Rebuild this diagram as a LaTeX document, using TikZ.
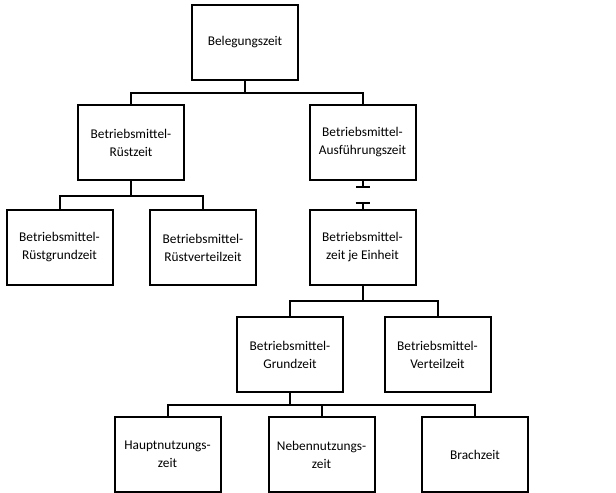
\documentclass[tikz,border=0pt]{standalone}
\usepackage{fontspec}
\setmainfont{Carlito}
\usepackage{tikz}
\usetikzlibrary{arrows.meta,calc,positioning}

\tikzset{
  zeitbox/.style={draw, line width=1.5pt, fill=white, align=center,
    minimum width=79.5pt, minimum height=56.25pt, inner sep=0pt,
    font=\fontsize{10}{13.5}\selectfont},
  baum/.style={line width=1.5pt},
  sperre/.style={line width=1.5pt, -{Bar[width=10.5pt,line width=1.5pt]}}
}

\begin{document}
\begin{tikzpicture}[x=0.75pt,y=-0.75pt]
      \useasboundingbox (0,0) rectangle (616,492);
      % Ebene 1
      \node[zeitbox] (beleg) at (245,42.5) {Belegungszeit};
      % Ebene 2
      \node[zeitbox] (ruest) at (131,142.5) {Betriebsmittel-\\Rüstzeit};
      \node[zeitbox] (ausf) at (362.5,142.5) {Betriebsmittel-\\Ausführungszeit};
      % Ebene 3
      \node[zeitbox] (ruestgrund) at (59.5,247.5) {Betriebsmittel-\\Rüstgrundzeit};
      \node[zeitbox] (ruestvert) at (203,247.5) {Betriebsmittel-\\Rüstverteilzeit};
      \node[zeitbox] (einheit) at (362.5,247.5) {Betriebsmittel-\\zeit je Einheit};
      % Ebene 4
      \node[zeitbox] (grund) at (290,354.5) {Betriebsmittel-\\Grundzeit};
      \node[zeitbox] (vert) at (437.5,354.5) {Betriebsmittel-\\Verteilzeit};
      % Ebene 5
      \node[zeitbox] (haupt) at (167.5,454.5) {Hauptnutzungs-\\zeit};
      \node[zeitbox] (neben) at (321.5,454.5) {Nebennutzungs-\\zeit};
      \node[zeitbox] (brach) at (475,454.5) {Brachzeit};

      % Verbindungen
      \draw[baum] (beleg.south) -- ++(0,12) coordinate (b1);
      \draw[baum] (b1) -| (ruest.north);
      \draw[baum] (b1) -| (ausf.north);
      \draw[baum] (ruest.south) -- ++(0,15) coordinate (b2);
      \draw[baum] (b2) -| (ruestgrund.north);
      \draw[baum] (b2) -| (ruestvert.north);
      \draw[sperre] (ausf.south) -- ++(0,6.5);
      \draw[sperre] (einheit.north) -- ++(0,-7);
      \draw[baum] (einheit.south) -- ++(0,15) coordinate (b3);
      \draw[baum] (b3) -| (grund.north);
      \draw[baum] (b3) -| (vert.north);
      \draw[baum] (grund.south) -- ++(0,12) coordinate (b4);
      \draw[baum] (b4) -| (haupt.north);
      \draw[baum] (b4) -| (neben.north);
      \draw[baum] (b4) -| (brach.north);
    \end{tikzpicture}
\end{document}
